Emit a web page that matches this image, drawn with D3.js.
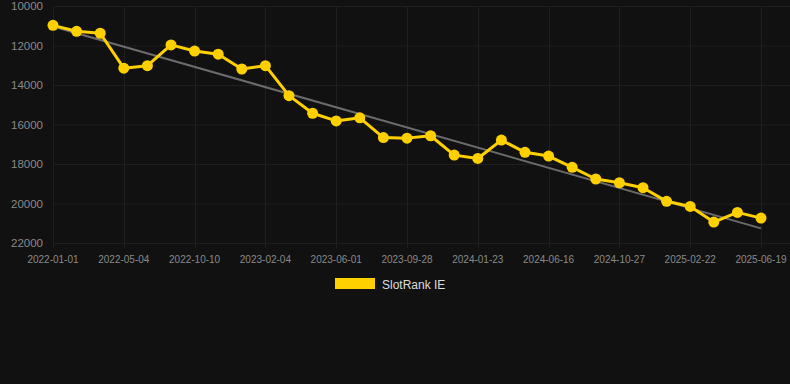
<!DOCTYPE html>
<html>
<head>
<meta charset="utf-8">
<script src="https://cdn.jsdelivr.net/npm/d3@7"></script>
<style>
  html, body { margin: 0; padding: 0; background: #111111; }
  body { width: 790px; height: 384px; overflow: hidden; }
  svg { display: block; font-family: "Liberation Sans", Arial, Helvetica, sans-serif; }
</style>
</head>
<body>
<div id="chart"></div>
<script>
// categories (every 3rd one is labelled on the axis)
const dates = [
  "2022-01-01", "2022-02-11", "2022-03-24", "2022-05-04", "2022-06-26", "2022-08-18",
  "2022-10-10", "2022-11-18", "2022-12-27", "2023-02-04", "2023-03-14", "2023-04-23",
  "2023-06-01", "2023-07-11", "2023-08-19", "2023-09-28", "2023-11-05", "2023-12-15",
  "2024-01-23", "2024-03-10", "2024-04-29", "2024-06-16", "2024-07-30", "2024-09-13",
  "2024-10-27", "2024-12-05", "2025-01-13", "2025-02-22", "2025-04-01", "2025-05-11",
  "2025-06-19"
];
const rankValues = [
  10980, 11280, 11380, 13150, 13020, 11970, 12280, 12440, 13190, 13020,
  14540, 15430, 15820, 15660, 16660, 16690, 16570, 17550, 17720, 16790,
  17410, 17600, 18170, 18760, 18950, 19200, 19890, 20150, 20940, 20450,
  20740
];
// trend line, first and last category
const trendValues = [11040, 21260];
const yTicks = [10000, 12000, 14000, 16000, 18000, 20000, 22000];
const seriesName = "SlotRank IE";

const width = 790;
const height = 384;
const margin = { top: 6, right: 29, bottom: 141, left: 53 };

const svg = d3.select("#chart").append("svg")
  .attr("width", width)
  .attr("height", height);

const x = d3.scalePoint()
  .domain(dates)
  .range([margin.left, width - margin.right]);

const y = d3.scaleLinear()
  .domain([10000, 22000])
  .range([margin.top, height - margin.bottom]);

const gridColor = "#1f1f1f";

// horizontal grid
svg.append("g")
  .selectAll("line")
  .data(yTicks)
  .join("line")
  .attr("x1", margin.left)
  .attr("x2", width)
  .attr("y1", (d) => y(d) + 0.5)
  .attr("y2", (d) => y(d) + 0.5)
  .attr("stroke", gridColor);

// vertical grid at labelled categories
const labelled = dates.filter((d, i) => i % 3 === 0);
svg.append("g")
  .selectAll("line")
  .data(labelled)
  .join("line")
  .attr("x1", (d) => Math.round(x(d)) + 0.5)
  .attr("x2", (d) => Math.round(x(d)) + 0.5)
  .attr("y1", margin.top)
  .attr("y2", y(22000) + 5)
  .attr("stroke", gridColor);

// y axis labels
svg.append("g")
  .selectAll("text")
  .data(yTicks)
  .join("text")
  .attr("x", 43)
  .attr("y", (d) => y(d))
  .attr("dy", "0.35em")
  .attr("text-anchor", "end")
  .attr("fill", "#8a8a8a")
  .style("font-size", "11.5px")
  .text((d) => d);

// x axis labels
svg.append("g")
  .selectAll("text")
  .data(labelled)
  .join("text")
  .attr("x", (d) => x(d))
  .attr("y", 259)
  .attr("dy", "0.35em")
  .attr("text-anchor", "middle")
  .attr("fill", "#8a8a8a")
  .style("font-size", "10px")
  .text((d) => d);

// trend line
svg.append("line")
  .attr("x1", x(dates[0]))
  .attr("y1", y(trendValues[0]))
  .attr("x2", x(dates[dates.length - 1]))
  .attr("y2", y(trendValues[1]))
  .attr("stroke", "#6b6b6b")
  .attr("stroke-width", 2);

const data = dates.map((d, i) => ({ date: d, value: rankValues[i] }));
const yellow = "#ffd000";

const line = d3.line()
  .x((d) => x(d.date))
  .y((d) => y(d.value));

svg.append("path")
  .datum(data)
  .attr("d", line)
  .attr("fill", "none")
  .attr("stroke", yellow)
  .attr("stroke-width", 3)
  .attr("stroke-linejoin", "round");

svg.append("g")
  .selectAll("circle")
  .data(data)
  .join("circle")
  .attr("cx", (d) => x(d.date))
  .attr("cy", (d) => y(d.value))
  .attr("r", 5.5)
  .attr("fill", yellow);

// legend
const legend = svg.append("g");
legend.append("rect")
  .attr("x", 335)
  .attr("y", 278)
  .attr("width", 40)
  .attr("height", 11)
  .attr("fill", yellow);
legend.append("text")
  .attr("x", 382)
  .attr("y", 285)
  .attr("dy", "0.35em")
  .attr("fill", "#dddddd")
  .style("font-size", "12px")
  .text(seriesName);
</script>
</body>
</html>
